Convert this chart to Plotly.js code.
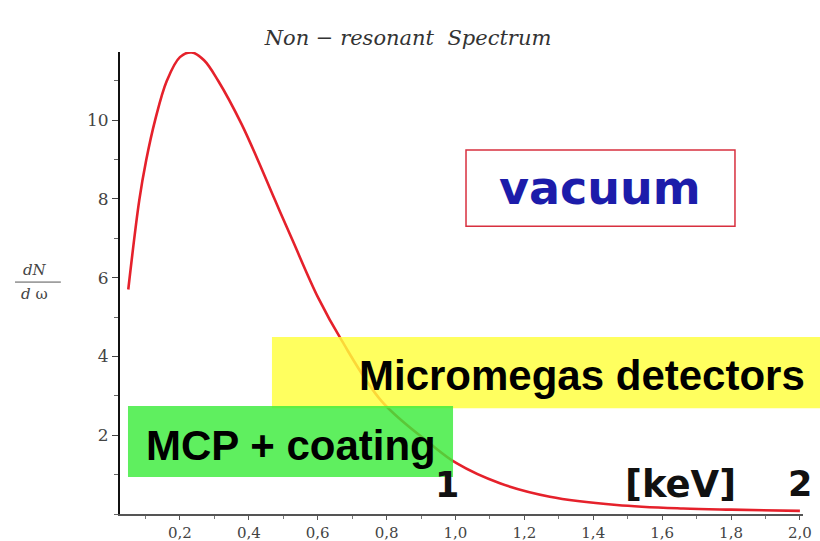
<!DOCTYPE html>
<html>
<head>
<meta charset="utf-8">
<script src="https://cdn.plot.ly/plotly-3.0.1.min.js"></script>
<style>html,body{margin:0;padding:0;background:#fff;}#chart{width:820px;height:541px;}</style>
</head>
<body>
<div id="chart"></div>
<script>
// Photon energy (keV) and spectrum dN/dω
const energy = [0.05, 0.082, 0.102, 0.128, 0.162, 0.2, 0.234, 0.27, 0.311, 0.379, 0.428, 0.476, 0.527, 0.602, 0.67, 0.786, 0.926, 1.003, 1.129, 1.274, 1.468, 1.661, 1.8, 2.0];
const spectrum = [5.7, 7.97, 8.98, 10.0, 11.0, 11.6, 11.72, 11.52, 11.0, 9.9, 8.95, 7.97, 6.95, 5.48, 4.4, 2.86, 1.79, 1.29, 0.78, 0.44, 0.23, 0.14, 0.11, 0.08];

const titleText = "Non − resonant  Spectrum";
const yTickVals = [2, 4, 6, 8, 10];
const yTickText = ["2", "4", "6", "8", "10"];
const xTickVals = [0.2, 0.4, 0.6, 0.8, 1.0, 1.2, 1.4, 1.6, 1.8, 2.0];
const xTickText = ["0,2", "0,4", "0,6", "0,8", "1,0", "1,2", "1,4", "1,6", "1,8", "2,0"];

const serif = "DejaVu Serif, Liberation Serif, serif";
const boldSans = "Liberation Sans, Arial, sans-serif";
const verd = "DejaVu Sans, Verdana, sans-serif";

const trace = {
  x: energy, y: spectrum, type: 'scatter', mode: 'lines',
  line: {color: '#e5212b', width: 2.6, shape: 'spline', smoothing: 1},
  hoverinfo: 'skip'
};

const layout = {
  width: 820, height: 541,
  margin: {l: 120, r: 17, t: 52, b: 27},
  paper_bgcolor: '#ffffff', plot_bgcolor: '#ffffff',
  showlegend: false,
  title: {text: '<i>' + titleText + '</i>', x: 408/820, xanchor: 'center', y: 1 - 38/541, yanchor: 'middle',
          font: {family: serif, size: 21, color: '#333333'}},
  xaxis: {
    range: [0.026, 2.009], showgrid: false, zeroline: false,
    showline: true, linecolor: '#555555', linewidth: 2,
    tickmode: 'array', tickvals: xTickVals, ticktext: xTickText,
    ticks: 'outside', ticklen: 4, tickwidth: 1, tickcolor: '#555',
    minor: {dtick: 0.1, tick0: 0, ticks: 'outside', ticklen: 3, tickcolor: '#777', tickwidth: 1},
    tickfont: {family: serif, size: 15, color: '#444444'}
  },
  yaxis: {
    range: [0, 11.73], showgrid: false, zeroline: false,
    showline: true, linecolor: '#111111', linewidth: 2,
    tickmode: 'array', tickvals: yTickVals, ticktext: yTickText,
    ticks: 'outside', ticklen: 6, tickwidth: 1, tickcolor: '#444',
    minor: {dtick: 1, tick0: 0, ticks: 'outside', ticklen: 4, tickcolor: '#666', tickwidth: 1},
    tickfont: {family: serif, size: 17, color: '#444444'}
  },
  shapes: [
    {type: 'rect', xref: 'paper', yref: 'paper', x0: 0.5066, x1: 0.9004, y0: 0.623, y1: 0.788,
     line: {color: '#d8303f', width: 1.5}, fillcolor: '#ffffff', layer: 'above'},
    {type: 'rect', xref: 'paper', yref: 'paper', x0: 0.2225, x1: 1.03, y0: 0.229, y1: 0.3831,
     line: {width: 0}, fillcolor: 'rgba(255,255,60,0.82)', layer: 'above'},
    {type: 'rect', xref: 'paper', yref: 'paper', x0: 0.0117, x1: 0.4876, y0: 0.0801, y1: 0.2335,
     line: {width: 0}, fillcolor: 'rgba(60,236,60,0.82)', layer: 'above'},
    {type: 'line', xref: 'paper', yref: 'paper', x0: -0.1537, x1: -0.0866, y0: 0.502, y1: 0.502,
     line: {color: '#555555', width: 1}}
  ],
  annotations: [
    {xref: 'paper', yref: 'paper', x: 0.7028, y: 0.7056, xanchor: 'center', yanchor: 'middle', showarrow: false,
     text: '<b>vacuum</b>', font: {family: verd, size: 46, color: '#1c1caa'}},
    {xref: 'paper', yref: 'paper', x: 0.677, y: 0.300, xanchor: 'center', yanchor: 'middle', showarrow: false,
     text: '<b>Micromegas detectors</b>', font: {family: boldSans, size: 42, color: '#000000'}},
    {xref: 'paper', yref: 'paper', x: 0.2504, y: 0.148, xanchor: 'center', yanchor: 'middle', showarrow: false,
     text: '<b>MCP + coating</b>', font: {family: boldSans, size: 42, color: '#000000'}},
    {xref: 'paper', yref: 'paper', x: 0.4788, y: 0.062, xanchor: 'center', yanchor: 'middle', showarrow: false,
     text: '<b>1</b>', font: {family: verd, size: 35, color: '#111111'}},
    {xref: 'paper', yref: 'paper', x: 0.82, y: 0.064, xanchor: 'center', yanchor: 'middle', showarrow: false,
     text: '<b>[keV]</b>', font: {family: verd, size: 37, color: '#111111'}},
    {xref: 'paper', yref: 'paper', x: 0.9956, y: 0.064, xanchor: 'center', yanchor: 'middle', showarrow: false,
     text: '<b>2</b>', font: {family: verd, size: 35, color: '#111111'}},
    {xref: 'paper', yref: 'paper', x: -0.1245, y: 0.528, xanchor: 'center', yanchor: 'middle', showarrow: false,
     text: '<i>dN</i>', font: {family: serif, size: 15, color: '#444444'}},
    {xref: 'paper', yref: 'paper', x: -0.1245, y: 0.476, xanchor: 'center', yanchor: 'middle', showarrow: false,
     text: '<i>d</i> ω', font: {family: serif, size: 15, color: '#444444'}}
  ]
};

Plotly.newPlot('chart', [trace], layout, {staticPlot: true, displayModeBar: false});
</script>
</body>
</html>
